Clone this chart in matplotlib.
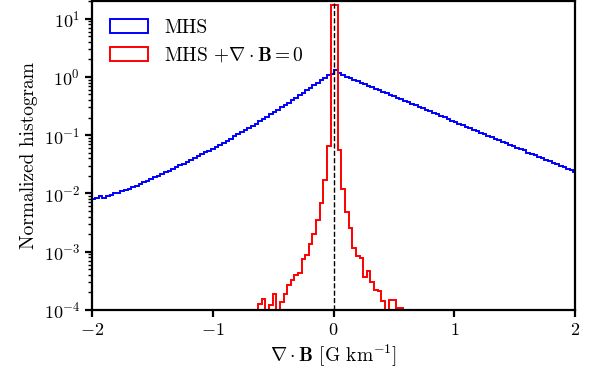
import numpy as np
import matplotlib
matplotlib.use('Agg')
import matplotlib.pyplot as plt

plt.rcParams['font.family'] = 'serif'
plt.rcParams['font.serif'] = ['cmr10']
plt.rcParams['mathtext.fontset'] = 'cm'
plt.rcParams['axes.formatter.use_mathtext'] = True
plt.rcParams['font.size'] = 14
plt.rcParams['axes.unicode_minus'] = True

# bins (width 0.03)
bin_w = 0.03
bin_off = 0.005

# MHS histogram, log10 of density, bins k=-68..-1 (left of zero)
mhs_left_log10 = [
    -2.11, -2.10, -2.09, -2.07, -2.04, -2.07, -2.045, -2.025, -2.00, -1.985,
    -1.965, -1.945, -1.921, -1.893, -1.865, -1.837, -1.809, -1.781, -1.753, -1.725,
    -1.697, -1.669, -1.639, -1.609, -1.579, -1.549, -1.519, -1.489, -1.459, -1.429,
    -1.399, -1.365, -1.331, -1.297, -1.263, -1.229, -1.195, -1.161, -1.127, -1.093,
    -1.059, -1.022, -0.985, -0.948, -0.911, -0.874, -0.837, -0.800, -0.763, -0.726,
    -0.685, -0.644, -0.603, -0.562, -0.521, -0.480, -0.439, -0.398, -0.357, -0.314,
    -0.271, -0.228, -0.185, -0.142, -0.099, -0.056, -0.013, 0.030, 0.057,
][1:]
# bins k=0..66 (right of zero)
mhs_right_log10 = [
    0.115, 0.070, 0.040, 0.005, -0.021, -0.047, -0.073, -0.099, -0.125, -0.151,
    -0.177, -0.203, -0.229, -0.255, -0.281, -0.307, -0.333, -0.358, -0.384, -0.410,
    -0.436, -0.462, -0.488, -0.514, -0.540, -0.566, -0.592, -0.618, -0.644, -0.670,
    -0.696, -0.722, -0.748, -0.774, -0.800, -0.826, -0.852, -0.877, -0.903, -0.929,
    -0.955, -0.981, -1.007, -1.033, -1.059, -1.085, -1.111, -1.137, -1.163, -1.189,
    -1.215, -1.241, -1.262, -1.300, -1.319, -1.345, -1.371, -1.396, -1.422, -1.448,
    -1.474, -1.500, -1.526, -1.552, -1.578, -1.604, -1.630,
]

# MHS + divB=0 histogram, density, bins k=-21..18
div_free = [
    1.26e-4, 1.55e-4, 0.0, 1.23e-4, 1.91e-4, 0.0, 1.35e-4, 1.91e-4, 2.63e-4, 3.24e-4,
    3.98e-4, 4.27e-4, 7.41e-4, 8.71e-4, 1.35e-3, 2.00e-3, 3.47e-3, 6.76e-3, 1.70e-2, 6.61e-2,
    17.2, 17.2, 5.62e-2, 1.20e-2, 4.79e-3, 2.51e-3, 1.17e-3, 8.51e-4, 7.76e-4, 3.72e-4,
    4.68e-4, 3.02e-4, 2.19e-4, 2.09e-4, 1.45e-4, 0.0, 1.48e-4, 1.48e-4, 1.10e-4, 1.10e-4,
]

mhs = 10.0 ** np.array(mhs_left_log10 + mhs_right_log10)
mhs_edges = bin_off + bin_w * np.arange(-68, 68)
div_edges = bin_off + bin_w * np.arange(-21, 20)

fig = plt.figure(figsize=(6.03, 3.78), dpi=100)
ax = fig.add_axes([0.1526, 0.180, 0.8014, 0.817])

ax.hist(mhs_edges[:-1] + bin_w / 2, bins=mhs_edges, weights=mhs, histtype='step',
        color='blue', lw=1.4, label='MHS')
ax.hist(div_edges[:-1] + bin_w / 2, bins=div_edges, weights=np.array(div_free), histtype='step',
        color='red', lw=1.4, label=r'MHS $+\nabla\cdot\mathbf{B}=0$')
ax.axvline(0, color='k', ls='--', lw=1.0)

ax.set_yscale('log')
ax.set_xlim(-2, 2)
ax.set_ylim(1e-4, 20)
ax.set_xticks([-2, -1, 0, 1, 2])
ax.set_xlabel(r'$\nabla\cdot\mathbf{B}$ [G km$^{-1}$]')
ax.set_ylabel('Normalized histogram')

for s in ax.spines.values():
    s.set_linewidth(1.6)
ax.tick_params(which='major', direction='out', length=5, width=1.6, labelsize=13)
ax.tick_params(which='minor', direction='out', length=3, width=1.0)
ax.tick_params(axis='x', which='minor', bottom=False)

ax.legend(loc='upper left', frameon=False, fontsize=14)

fig.savefig('out.png', dpi=100)
